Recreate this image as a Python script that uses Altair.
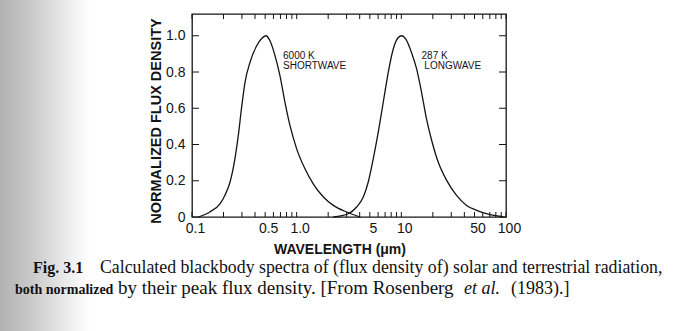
import altair as alt
import pandas as pd

# ---- data ----
sw_wavelength = [0.115, 0.148, 0.185, 0.206, 0.231, 0.257, 0.277, 0.298, 0.321, 0.358, 0.415, 0.463,
                 0.509, 0.556, 0.621, 0.692, 0.773, 0.863, 1.0, 1.2, 1.44, 1.80, 2.24, 3.0, 4.03]
sw_flux = [0.0, 0.028, 0.073, 0.119, 0.193, 0.321, 0.45, 0.606, 0.743, 0.853, 0.945, 0.985,
           1.0, 0.972, 0.89, 0.78, 0.633, 0.505, 0.376, 0.266, 0.183, 0.11, 0.064, 0.0275, 0.0]
lw_wavelength = [2.24, 3.11, 3.74, 4.33, 4.83, 5.39, 6.02, 6.72, 7.50, 8.37, 9.34, 10.07,
                 11.07, 12.5, 14.0, 15.6, 17.4, 19.5, 22.5, 27.1, 33.7, 42.0, 52.4, 70.2, 94.0]
lw_flux = [0.0, 0.018, 0.055, 0.11, 0.193, 0.321, 0.468, 0.633, 0.798, 0.927, 0.99, 1.0,
           0.98, 0.908, 0.817, 0.688, 0.541, 0.422, 0.303, 0.202, 0.119, 0.064, 0.037, 0.013, 0.002]

x_label_values = [0.1, 0.5, 1, 5, 10, 50, 100]
x_tick_values = [0.1, 0.2, 0.3, 0.4, 0.5, 0.6, 0.7, 0.8, 0.9,
                 1, 2, 3, 4, 5, 6, 7, 8, 9,
                 10, 20, 30, 40, 50, 60, 70, 80, 90, 100]
y_tick_values = [0, 0.2, 0.4, 0.6, 0.8, 1.0]

annot_text = ["6000 K", "SHORTWAVE", "287 K", "LONGWAVE"]
annot_wl = [0.741, 0.741, 15.6, 16.6]
annot_flux = [0.87, 0.815, 0.872, 0.815]

y_title = "NORMALIZED FLUX DENSITY"
x_title = "WAVELENGTH (\u03bcm)"

# caption pieces: text, x (page px), baseline y (page px), size, weight, style
caption_text = ["Fig. 3.1",
                "Calculated blackbody spectra of (flux density of) solar and terrestrial radiation,",
                "both normalized",
                "by their peak flux density. [From Rosenberg",
                "et al.", "(1983).]"]
caption_x = [33, 100, 15, 118, 464, 511]
caption_y = [273, 273, 294, 294, 294, 294]
caption_size = [16, 17.8, 14, 19, 18, 18]
caption_weight = ["bold", "normal", "bold", "normal", "normal", "normal"]
caption_style = ["normal", "normal", "normal", "normal", "italic", "normal"]

W, H = 314, 203
OX, OY = 192, 14
INK = "#141414"

curves = pd.DataFrame({
    "wavelength": sw_wavelength + lw_wavelength,
    "flux": sw_flux + lw_flux,
    "series": ["shortwave"] * len(sw_wavelength) + ["longwave"] * len(lw_wavelength),
})

xscale = alt.Scale(type="log", domain=[0.1, 100], nice=False)
yscale = alt.Scale(domain=[0, 1.12], nice=False)

lines = alt.Chart(curves).mark_line(color=INK, strokeWidth=1.3, interpolate="monotone").encode(
    x=alt.X("wavelength:Q", scale=xscale,
            axis=alt.Axis(values=x_label_values, title=None, grid=False, domain=False, tickSize=0,
                          labelPadding=4, labelOffset=3, labelFontSize=14, labelFont="Liberation Sans",
                          labelColor=INK, labelFlush=False,
                          labelExpr="datum.value < 1 ? format(datum.value, '.1f') : (datum.value == 1 ? '1.0' : format(datum.value, 'd'))")),
    y=alt.Y("flux:Q", scale=yscale,
            axis=alt.Axis(values=y_tick_values, title=None, grid=False, domain=False, tickSize=0,
                          labelPadding=7, labelFontSize=14, labelFont="Liberation Sans",
                          labelColor=INK, labelFlush=False,
                          labelExpr="datum.value == 0 ? '0' : format(datum.value, '.1f')")),
    detail="series:N",
)

xt = pd.DataFrame({"wavelength": x_tick_values})
yt = pd.DataFrame({"flux": y_tick_values})

bottom_ticks = alt.Chart(xt).mark_rule(color=INK, strokeWidth=1).encode(
    x=alt.X("wavelength:Q", scale=xscale), y=alt.value(H), y2=alt.value(H - 5))
top_ticks = alt.Chart(xt).mark_rule(color=INK, strokeWidth=1).encode(
    x=alt.X("wavelength:Q", scale=xscale), y=alt.value(0), y2=alt.value(5))
left_ticks = alt.Chart(yt).mark_rule(color=INK, strokeWidth=1).encode(
    y=alt.Y("flux:Q", scale=yscale), x=alt.value(0), x2=alt.value(7))
right_ticks = alt.Chart(yt).mark_rule(color=INK, strokeWidth=1).encode(
    y=alt.Y("flux:Q", scale=yscale), x=alt.value(W), x2=alt.value(W - 7))

annots = alt.Chart(pd.DataFrame({"t": annot_text, "wavelength": annot_wl, "flux": annot_flux})).mark_text(
    align="left", baseline="alphabetic", font="Liberation Sans", fontSize=10, color=INK).encode(
    x=alt.X("wavelength:Q", scale=xscale), y=alt.Y("flux:Q", scale=yscale), text="t:N")

ytitle = alt.Chart(pd.DataFrame({"t": [y_title]})).mark_text(
    angle=270, align="center", baseline="middle", font="Liberation Sans", fontSize=14.5,
    fontWeight="bold", color=INK).encode(x=alt.value(-35), y=alt.value(107), text="t:N")
xtitle = alt.Chart(pd.DataFrame({"t": [x_title]})).mark_text(
    align="center", baseline="middle", font="Liberation Sans", fontSize=14,
    fontWeight="bold", color=INK).encode(x=alt.value(148), y=alt.value(236), text="t:N")

# left page shadow of the scan
shade = alt.Chart(pd.DataFrame({"a": [0]})).mark_rect(
    color=alt.Gradient(gradient="linear", x1=0, x2=1, y1=0, y2=0,
                       stops=[alt.GradientStop(color="#b2b2b2", offset=0),
                              alt.GradientStop(color="#c2c2c2", offset=0.25),
                              alt.GradientStop(color="#d6d6d6", offset=0.5),
                              alt.GradientStop(color="#ececec", offset=0.75),
                              alt.GradientStop(color="#ffffff", offset=1)])).encode(
    x=alt.value(-OX), x2=alt.value(90 - OX), y=alt.value(-OY), y2=alt.value(331 - OY))

caption = []
for t, cx, cy, s, w, st in zip(caption_text, caption_x, caption_y, caption_size,
                               caption_weight, caption_style):
    caption.append(alt.Chart(pd.DataFrame({"t": [t]})).mark_text(
        align="left", baseline="alphabetic", font="Liberation Serif", fontSize=s, fontWeight=w,
        fontStyle=st, color="#111111").encode(x=alt.value(cx - OX), y=alt.value(cy - OY), text="t:N"))

chart = alt.layer(shade, lines, bottom_ticks, top_ticks, left_ticks, right_ticks, annots,
                  ytitle, xtitle, *caption).properties(
    width=W, height=H, background="white",
    padding={"left": OX, "top": OY, "right": 699 - OX - W, "bottom": 331 - OY - H},
    autosize=alt.AutoSizeParams(type="none"),
).configure_view(stroke=INK, strokeWidth=1.3)

chart.save("out.html", embed_options={"renderer": "svg", "actions": False})
